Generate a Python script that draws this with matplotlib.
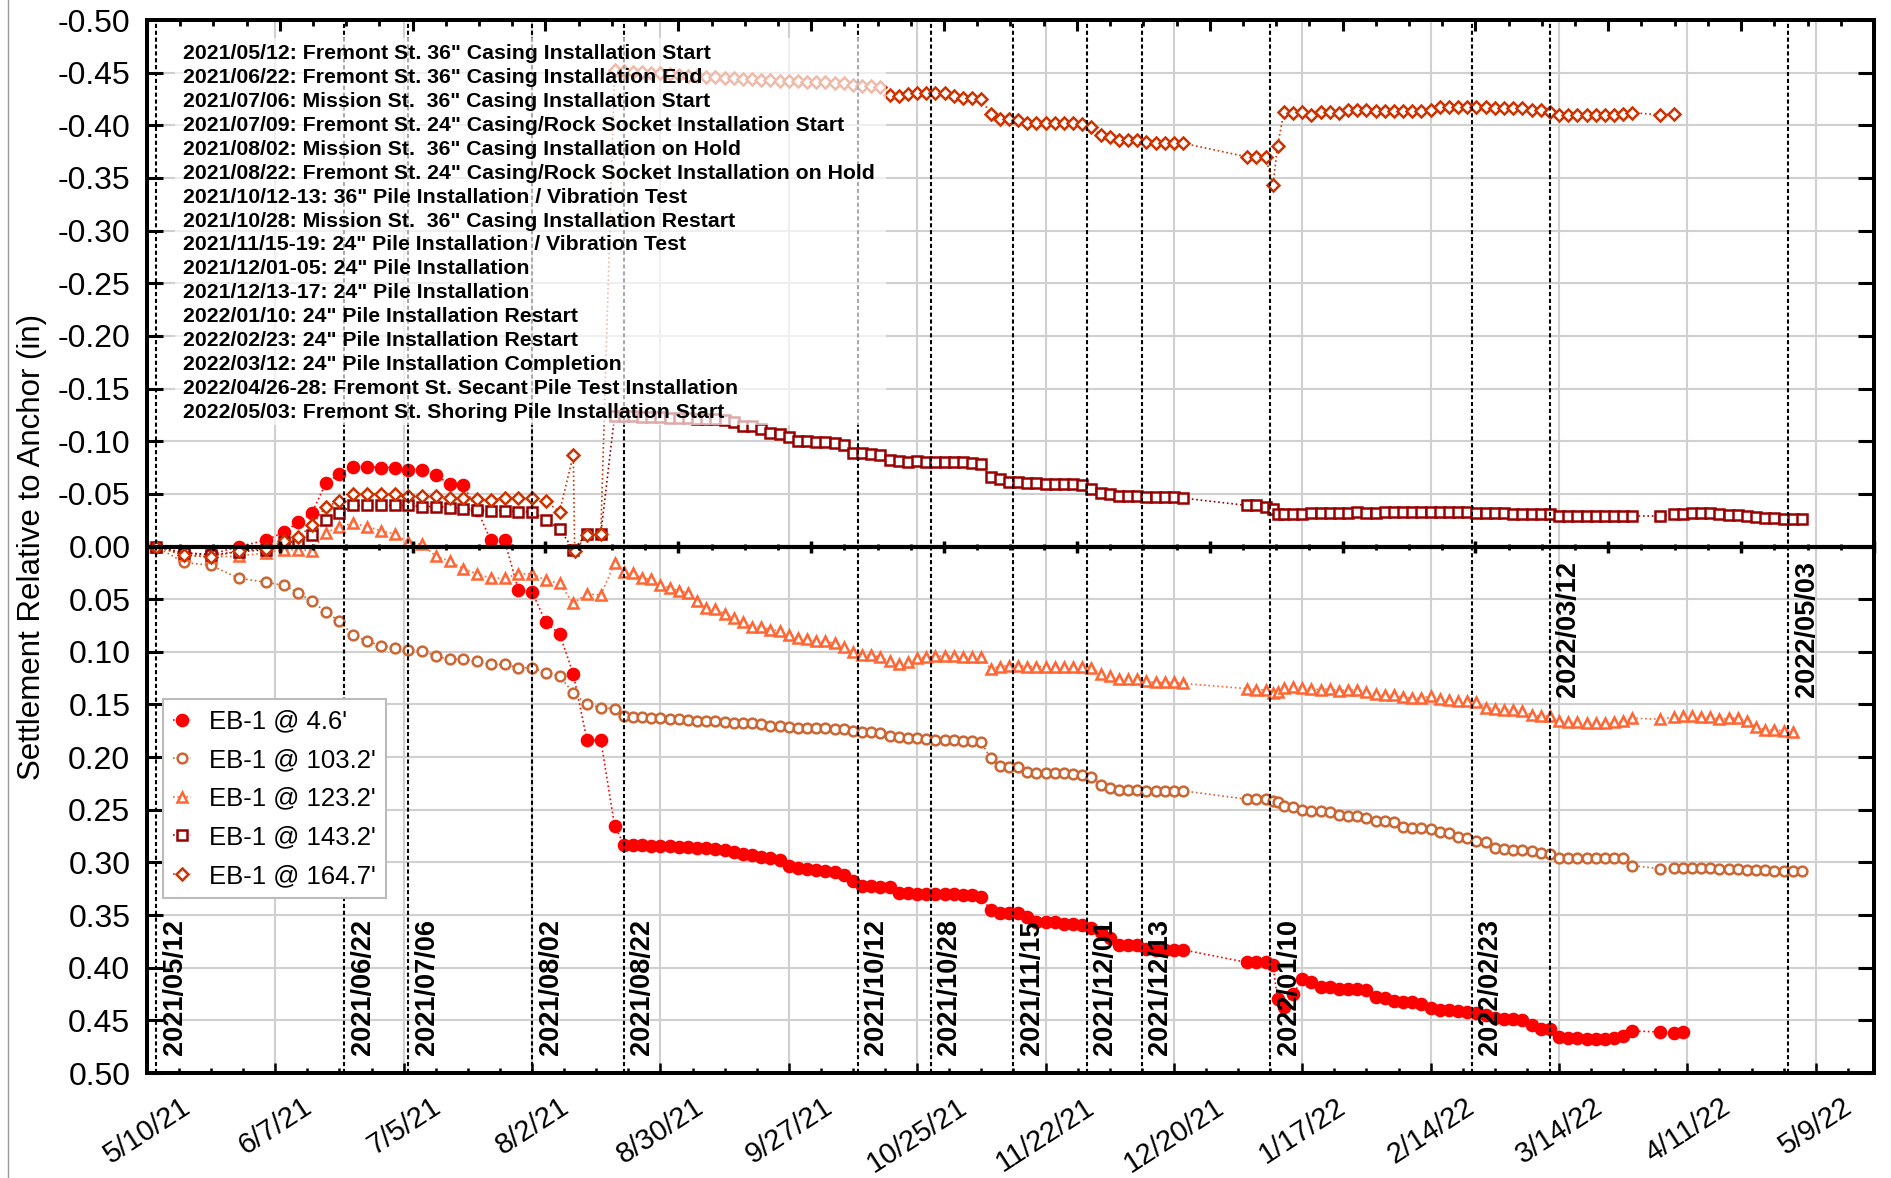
import numpy as np
import pandas as pd
import matplotlib
matplotlib.use('Agg')
import matplotlib.pyplot as plt
import matplotlib.dates as mdates
from matplotlib.patches import Rectangle
from matplotlib.lines import Line2D
from matplotlib.ticker import FuncFormatter

plt.rcParams['font.family'] = ['Liberation Sans', 'DejaVu Sans']
plt.rcParams['axes.unicode_minus'] = False

start = pd.Timestamp('2021-05-10')

# reading days, counted from 5/10/21
early_days = [2, 8, 14, 20, 26, 30, 33, 36, 39, 42, 45, 48, 51, 54, 57, 60, 63, 66, 69, 72,
              75, 78, 81, 84, 87, 90, 93, 96, 99, 102]
mid_days = [104, 106, 108, 110, 112, 114, 116, 118, 120, 122, 124, 126, 128, 130, 132, 134,
            136, 138, 140, 142, 144, 146, 148, 150, 152, 154, 156, 158, 160, 162, 164, 166,
            168, 170, 172, 174, 176, 178, 180, 182, 184, 186, 188, 190, 192, 194, 196, 198,
            200, 202, 204, 206, 208, 210, 212, 214, 216, 218, 220, 222, 224, 226]
late_days = [240, 242, 244, 245.6, 246.6, 248, 250, 252, 254, 256, 258, 260, 262, 264, 266,
             268, 270, 272, 274, 276, 278, 280, 282, 284, 286, 288, 290, 292, 294, 296, 298,
             300, 302, 304, 306, 308, 310, 312, 314, 316, 318, 320, 322, 324]
tail_days = [330, 333, 335, 337, 339, 341, 343, 345, 347, 349, 351, 353, 355, 357, 359, 361]
dia_early_days = [2, 8, 14, 20, 26, 30, 33, 36, 39, 42, 45, 48, 51, 54, 57, 60, 63, 66, 69, 72,
                  75, 78, 81, 84, 87, 90, 93, 93.3, 96, 99, 102]

# EB-1 @ 4.6'
v46_early = [0.0, 0.006, 0.0075, 0.0, -0.006, -0.014, -0.023, -0.032, -0.060, -0.069,
             -0.076, -0.076, -0.075, -0.075, -0.073, -0.073, -0.068, -0.059, -0.058, -0.035,
             -0.006, -0.006, 0.041, 0.043, 0.072, 0.083, 0.121, 0.184, 0.184, 0.265]
v46_mid = [.283, .283, .283, .284, .284, .284, .285, .285, .286, .286,
           .287, .288, .290, .292, .293, .295, .296, .298, .303, .305,
           .306, .307, .308, .309, .312, .318, .322, .322, .323, .323,
           .329, .329, .330, .330, .330, .330, .330, .331, .331, .333,
           .345, .348, .348, .348, .352, .357, .357, .357, .358, .358,
           .359, .362, .366, .372, .378, .378, .378, .382, .383, .383,
           .383, .383]
v46_late = [.395, .395, .395, .397, .430, .437, .425, .411, .414, .418,
            .418, .420, .420, .420, .421, .428, .429, .432, .433, .433,
            .434, .438, .440, .440, .441, .442, .443, .445, .448, .449,
            .449, .450, .454, .458, .458, .466, .467, .467, .468, .468,
            .468, .467, .465, .460]
v46_tail = [.461, .462, .461]

# EB-1 @ 103.2'
v103_early = [0.0, .015, .018, .030, .034, .037, .044, .052, .062, .071,
              .084, .090, .094, .096, .098, .099, .104, .107, .107, .109,
              .112, .112, .115, .115, .120, .123, .139, .150, .153, .154]
v103_mid = [.161, .162, .162, .163, .163, .164, .164, .165, .166, .166,
            .166, .167, .168, .168, .168, .169, .170, .170, .171, .172,
            .172, .172, .172, .173, .173, .175, .176, .176, .177, .180,
            .181, .182, .182, .183, .184, .184, .184, .185, .185, .186,
            .201, .208, .209, .209, .214, .215, .215, .215, .215, .216,
            .217, .219, .226, .229, .231, .231, .231, .232, .232, .232,
            .232, .232]
v103_late = [.240, .240, .240, .242, .243, .246, .247, .250, .251, .251,
             .252, .255, .256, .256, .258, .261, .261, .262, .266, .267,
             .267, .268, .271, .272, .276, .277, .280, .281, .286, .287,
             .288, .288, .289, .291, .292, .296, .296, .296, .296, .296,
             .296, .296, .296, .303]
v103_tail = [.306, .305, .305, .305, .305, .305, .306, .306, .306, .307,
             .307, .307, .308, .308, .308, .308]

# EB-1 @ 123.2'
v123_early = [0.0, .008, .010, .009, .006, .003, .003, .004, -.013, -.019,
              -.022, -.019, -.015, -.012, -.004, -.002, .009, .014, .021, .026,
              .030, .030, .026, .026, .032, .035, .054, .045, .046, .016]
v123_mid = [.024, .025, .030, .031, .037, .039, .042, .044, .052, .058,
            .059, .064, .068, .072, .076, .076, .079, .080, .084, .087,
            .088, .090, .090, .092, .095, .100, .103, .103, .105, .109,
            .112, .110, .106, .105, .104, .104, .104, .105, .105, .105,
            .116, .114, .113, .113, .114, .114, .114, .114, .114, .114,
            .114, .115, .121, .123, .126, .126, .126, .128, .129, .129,
            .129, .130]
v123_late = [.135, .136, .136, .139, .138, .134, .133, .134, .135, .136,
             .135, .137, .136, .136, .138, .140, .141, .141, .143, .144,
             .144, .142, .145, .146, .147, .147, .148, .153, .154, .155,
             .155, .156, .160, .161, .161, .166, .167, .167, .168, .168,
             .168, .167, .166, .163]
v123_tail = [.164, .162, .161, .161, .162, .162, .164, .163, .163, .166,
             .171, .174, .174, .175, .176]

# EB-1 @ 143.2'
v143_early = [0.0, .006, .008, .005, .003, -.004, -.004, -.011, -.025, -.032,
              -.039, -.039, -.039, -.039, -.039, -.038, -.038, -.037, -.036, -.035,
              -.034, -.034, -.033, -.033, -.025, -.017, .003, -.012, -.012, -.124]
v143_mid = [-.124, -.124, -.123, -.123, -.123, -.122, -.122, -.122, -.121, -.121,
            -.121, -.120, -.118, -.114, -.114, -.112, -.108, -.107, -.104, -.100,
            -.100, -.099, -.099, -.098, -.096, -.089, -.089, -.088, -.087, -.082,
            -.081, -.080, -.081, -.080, -.080, -.080, -.080, -.080, -.079, -.078,
            -.066, -.064, -.061, -.061, -.060, -.060, -.059, -.059, -.059, -.059,
            -.058, -.055, -.051, -.050, -.048, -.048, -.048, -.047, -.047, -.047,
            -.047, -.046]
v143_late = [-.039, -.039, -.038, -.036, -.031, -.031, -.031, -.031, -.032, -.032,
             -.032, -.032, -.032, -.033, -.032, -.032, -.033, -.033, -.033, -.033,
             -.033, -.033, -.033, -.033, -.033, -.033, -.032, -.032, -.032, -.032,
             -.031, -.031, -.031, -.031, -.031, -.029, -.029, -.029, -.029, -.029,
             -.029, -.029, -.029, -.029]
v143_tail = [-.029, -.031, -.031, -.032, -.032, -.032, -.031, -.030, -.030, -.029,
             -.028, -.027, -.027, -.026, -.026, -.026]

# EB-1 @ 164.7'
v164_early = [0.0, .008, .010, .004, .002, -.005, -.009, -.020, -.038, -.043,
              -.050, -.050, -.050, -.050, -.048, -.048, -.048, -.046, -.046, -.045,
              -.044, -.046, -.046, -.046, -.043, -.033, -.087, .004, -.011, -.012, -.453]
v164_mid = [-.452, -.451, -.451, -.450, -.450, -.449, -.448, -.447, -.447, -.446,
            -.446, -.445, -.445, -.444, -.444, -.443, -.443, -.442, -.442, -.442,
            -.441, -.441, -.441, -.440, -.440, -.438, -.437, -.437, -.436, -.429,
            -.428, -.430, -.431, -.431, -.431, -.431, -.428, -.426, -.426, -.425,
            -.411, -.406, -.406, -.405, -.402, -.402, -.402, -.402, -.402, -.402,
            -.401, -.398, -.391, -.389, -.386, -.386, -.386, -.384, -.383, -.383,
            -.383, -.383]
v164_late = [-.370, -.370, -.370, -.343, -.380, -.413, -.412, -.413, -.410, -.413,
             -.413, -.412, -.415, -.415, -.415, -.414, -.414, -.414, -.414, -.414,
             -.414, -.415, -.417, -.417, -.417, -.417, -.417, -.417, -.416, -.416,
             -.416, -.416, -.415, -.415, -.413, -.410, -.410, -.410, -.410, -.410,
             -.410, -.410, -.411, -.412]
v164_tail = [-.410, -.411]

event_dates = ['2021-05-12', '2021-06-22', '2021-07-06', '2021-08-02', '2021-08-22',
               '2021-10-12', '2021-10-28', '2021-11-15', '2021-12-01', '2021-12-13',
               '2022-01-10', '2022-02-23', '2022-03-12', '2022-05-03']

notes = [
    '2021/05/12: Fremont St. 36" Casing Installation Start',
    '2021/06/22: Fremont St. 36" Casing Installation End',
    '2021/07/06: Mission St.  36" Casing Installation Start',
    '2021/07/09: Fremont St. 24" Casing/Rock Socket Installation Start',
    '2021/08/02: Mission St.  36" Casing Installation on Hold',
    '2021/08/22: Fremont St. 24" Casing/Rock Socket Installation on Hold',
    '2021/10/12-13: 36" Pile Installation / Vibration Test',
    '2021/10/28: Mission St.  36" Casing Installation Restart',
    '2021/11/15-19: 24" Pile Installation / Vibration Test',
    '2021/12/01-05: 24" Pile Installation',
    '2021/12/13-17: 24" Pile Installation',
    '2022/01/10: 24" Pile Installation Restart',
    '2022/02/23: 24" Pile Installation Restart',
    '2022/03/12: 24" Pile Installation Completion',
    '2022/04/26-28: Fremont St. Secant Pile Test Installation',
    '2022/05/03: Fremont St. Shoring Pile Installation Start',
]


def to_dates(days):
    return start + pd.to_timedelta(np.asarray(days, dtype=float), unit='D')


def date_label(x, pos):
    d = mdates.num2date(x)
    return '{}/{}/{}'.format(d.month, d.day, d.strftime('%y'))


series = [
    ("EB-1 @ 4.6'", early_days + mid_days + late_days + tail_days[:3],
     v46_early + v46_mid + v46_late + v46_tail, '#FF0000', 'o', 8, '#FF0000'),
    ("EB-1 @ 103.2'", early_days + mid_days + late_days + tail_days,
     v103_early + v103_mid + v103_late + v103_tail, '#CC6633', 'o', 7, 'white'),
    ("EB-1 @ 123.2'", early_days + mid_days + late_days + tail_days[:15],
     v123_early + v123_mid + v123_late + v123_tail, '#FF6633', '^', 7.5, 'white'),
    ("EB-1 @ 143.2'", early_days + mid_days + late_days + tail_days,
     v143_early + v143_mid + v143_late + v143_tail, '#990000', 's', 7, 'white'),
    ("EB-1 @ 164.7'", dia_early_days + mid_days + late_days + tail_days[:2],
     v164_early + v164_mid + v164_late + v164_tail, '#CC3300', 'D', 6, 'white'),
]

fig = plt.figure(figsize=(18.91, 11.78), dpi=100)
ax = fig.add_axes([0.0777, 0.0891, 0.9133, 0.8939])

for label, days, vals, col, mk, ms, mfc in series:
    ax.plot(to_dates(days), vals, ls=':', lw=1.2, color=col, marker=mk, ms=ms,
            mfc=mfc, mec=col, mew=1.8, label=label, zorder=3)

ax.axhline(0, color='black', lw=3, zorder=3.5)

# event lines + labels
for d in event_dates:
    t = pd.Timestamp(d)
    ax.axvline(t, color='black', lw=1.5, ls=(0, (2, 1.3)), zorder=4)
    if t >= pd.Timestamp('2022-03-01'):
        yy, va = 0.014, 'top'
    else:
        yy, va = 0.483, 'bottom'
    ax.annotate(t.strftime('%Y/%m/%d'), xy=(t, yy), xytext=(4, 0),
                textcoords='offset points', rotation=90, ha='left', va=va,
                fontsize=19.5, fontweight='bold', zorder=6)

# note block with translucent background
ax.add_patch(Rectangle((0.016, 0.615), 0.412, 0.368, transform=ax.transAxes,
                       facecolor='white', edgecolor='none', alpha=0.67, zorder=5))
for i, s in enumerate(notes):
    ax.text(0.0208, 0.968 - i * 0.0227, s, transform=ax.transAxes, ha='left',
            va='center', fontsize=15.3, fontweight='bold', zorder=6)

# axes limits & ticks
ax.set_xlim(start, start + pd.Timedelta(days=376.7))
ax.set_ylim(0.5, -0.5)
ax.set_yticks(np.arange(-0.5, 0.501, 0.05))
ax.yaxis.set_major_formatter(FuncFormatter(lambda v, p: '{:.2f}'.format(round(v, 2) + 0.0)))
ax.set_xticks(to_dates(np.arange(0, 365, 28)))
ax.set_xticks(to_dates(np.arange(0, 377, 7)), minor=True)
ax.xaxis.set_major_formatter(FuncFormatter(date_label))

ax.tick_params(axis='x', which='major', direction='in', length=7, width=1.8,
               labelsize=21, pad=14, labelrotation=33)
ax.tick_params(axis='x', which='minor', direction='in', length=3.6, width=1.8)
ax.tick_params(axis='y', which='major', direction='in', length=11.5, width=2.2,
               labelsize=23, pad=12, left=True, right=True)
for lab in ax.get_xticklabels():
    lab.set_ha('center')

ax.set_ylabel('Settlement Relative to Anchor (in)', fontsize=22.5)
ax.yaxis.set_label_coords(-0.058, 0.5)

ax.grid(True, which='major', color='#D0D0D0', lw=1.5)
ax.set_axisbelow(True)
for sp in ax.spines.values():
    sp.set_linewidth(2.8)

# secondary axis on top and along zero line
ax2 = ax.twiny()
ax2.set_xlim(0, 13)
ax2.set_xticks(np.arange(0, 14, 1))
ax2.set_xticks(np.arange(0, 13.01, 0.25), minor=True)
ax2.tick_params(axis='x', which='major', direction='in', length=8, width=2.2, labeltop=False)
ax2.tick_params(axis='x', which='minor', direction='in', length=4.3, width=2)
ax2.plot(np.arange(0, 13.01, 0.25), np.zeros(53), ls='none', marker='|', ms=5,
         mew=2, color='black', clip_on=False)
ax2.plot(np.arange(0, 14, 1), np.zeros(14), ls='none', marker='|', ms=8,
         mew=2.5, color='black', clip_on=False)
for sp in ax2.spines.values():
    sp.set_linewidth(2.8)

leg = ax.legend(loc='upper left', bbox_to_anchor=(0.0093, 0.355), fontsize=18.5,
                frameon=True, fancybox=False, edgecolor='#BBBBBB', framealpha=1,
                borderaxespad=0, handlelength=0.7, handletextpad=0.7,
                labelspacing=0.57, borderpad=0.4)
leg.get_frame().set_linewidth(1.5)
leg.set_zorder(7)

fig.add_artist(Line2D([0.004, 0.004], [0, 1], color='#999999', lw=1))

fig.savefig('out.png', dpi=100)
